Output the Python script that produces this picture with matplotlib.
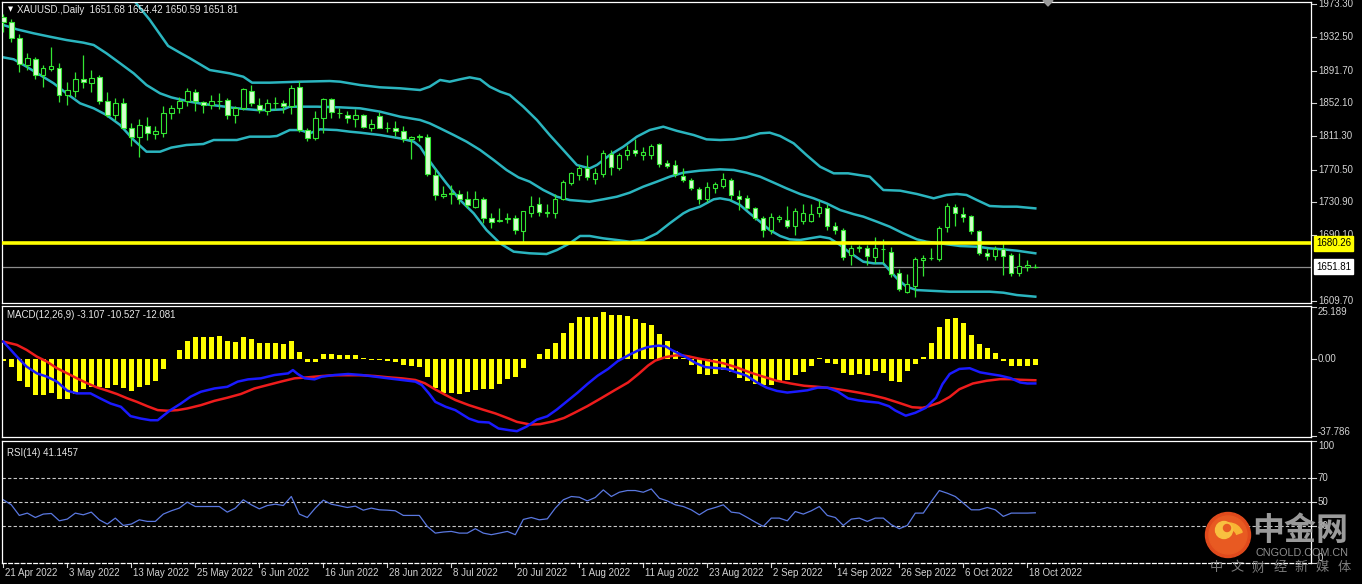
import matplotlib
matplotlib.use('Agg')
import matplotlib.pyplot as plt
from matplotlib.transforms import blended_transform_factory as btf
from matplotlib.patches import Circle, Wedge, Polygon

# ---------------- data ----------------
symbol_title = "XAUUSD.,Daily  1651.68 1654.42 1650.59 1651.81"
macd_title = "MACD(12,26,9) -3.107 -10.527 -12.081"
rsi_title = "RSI(14) 41.1457"

opens = [1957, 1951, 1932, 1899, 1906, 1886, 1894, 1895, 1862, 1867,
         1882, 1877, 1884, 1854, 1837, 1852, 1822, 1810, 1824, 1814,
         1815, 1840, 1846, 1854, 1866, 1853, 1850, 1855, 1856, 1837,
         1846, 1867, 1850, 1842, 1852, 1852, 1848, 1872, 1819, 1809,
         1834, 1857, 1840, 1838, 1833, 1838, 1822, 1836, 1822, 1821,
         1818, 1808, 1810, 1810, 1764, 1738, 1741, 1741, 1734, 1725,
         1735, 1711, 1708, 1710, 1711, 1696, 1718, 1728, 1718, 1717,
         1734, 1754, 1764, 1772, 1759, 1765, 1790, 1772, 1788, 1794,
         1788, 1788, 1802, 1779, 1776, 1763, 1758, 1747, 1734, 1748,
         1751, 1758, 1738, 1736, 1723, 1711, 1697, 1710, 1709, 1701,
         1708, 1708, 1717, 1723, 1701, 1697, 1666, 1675, 1675, 1664,
         1673, 1670, 1644, 1621, 1628, 1660, 1662, 1661, 1700, 1725,
         1716, 1714, 1695, 1668, 1665, 1673, 1666, 1644, 1651, 1651.68]
highs = [1961, 1955, 1936, 1913, 1908, 1899, 1921, 1901, 1878, 1890,
         1911, 1892, 1886, 1866, 1858, 1858, 1828, 1833, 1835, 1824,
         1848, 1850, 1860, 1870, 1869, 1854, 1862, 1864, 1858, 1849,
         1870, 1874, 1858, 1857, 1860, 1856, 1874, 1879, 1821, 1842,
         1858, 1858, 1846, 1842, 1845, 1839, 1832, 1841, 1829, 1830,
         1824, 1812, 1814, 1814, 1772, 1750, 1752, 1745, 1744, 1744,
         1737, 1717, 1724, 1717, 1715, 1720, 1738, 1737, 1728, 1741,
         1758, 1768, 1776, 1788, 1772, 1795, 1795, 1791, 1801, 1808,
         1798, 1802, 1803, 1782, 1782, 1772, 1760, 1749, 1755, 1756,
         1766, 1760, 1745, 1739, 1725, 1714, 1717, 1715, 1726, 1723,
         1728, 1728, 1733, 1729, 1707, 1699, 1678, 1678, 1678, 1688,
         1685, 1676, 1649, 1643, 1663, 1666, 1675, 1701, 1730, 1729,
         1725, 1715, 1697, 1674, 1677, 1681, 1669, 1668, 1660, 1654.42]
lows = [1939, 1927, 1890, 1892, 1882, 1872, 1891, 1853, 1850, 1860,
        1871, 1866, 1851, 1835, 1831, 1821, 1800, 1786, 1807, 1808,
        1811, 1832, 1840, 1848, 1842, 1840, 1845, 1845, 1833, 1828,
        1843, 1848, 1840, 1837, 1844, 1840, 1839, 1817, 1805, 1807,
        1815, 1834, 1834, 1828, 1823, 1822, 1818, 1821, 1817, 1812,
        1804, 1784, 1805, 1763, 1733, 1736, 1729, 1729, 1723, 1723,
        1705, 1699, 1706, 1705, 1692, 1682, 1713, 1714, 1713, 1711,
        1733, 1752, 1758, 1758, 1753, 1762, 1764, 1770, 1782, 1787,
        1782, 1783, 1774, 1772, 1762, 1756, 1745, 1728, 1731, 1742,
        1748, 1733, 1721, 1722, 1709, 1688, 1692, 1706, 1699, 1690,
        1704, 1707, 1713, 1697, 1692, 1660, 1654, 1670, 1654, 1656,
        1656, 1639, 1622, 1619, 1615, 1640, 1660, 1659, 1694, 1701,
        1707, 1692, 1666, 1660, 1660, 1642, 1640, 1640, 1646, 1650.59]
closes = [1951, 1932, 1900, 1907, 1886, 1895, 1897, 1862, 1868, 1882,
          1878, 1883, 1854, 1837, 1852, 1822, 1811, 1825, 1815, 1818,
          1840, 1846, 1854, 1867, 1854, 1850, 1855, 1854, 1837, 1846,
          1869, 1852, 1843, 1852, 1852.5, 1848, 1871, 1819, 1809, 1834,
          1857, 1841, 1839.5, 1834, 1838, 1823, 1827, 1822, 1821, 1818,
          1808, 1810, 1812, 1765, 1740, 1741, 1741.5, 1734, 1727, 1735,
          1711, 1706, 1708.5, 1711, 1697, 1720, 1726, 1719, 1718.5, 1734,
          1756, 1766, 1772, 1761, 1766, 1791, 1774, 1789, 1795, 1791,
          1792, 1800, 1777, 1775, 1765, 1758, 1748, 1735, 1749, 1753,
          1759, 1739, 1735, 1724, 1711, 1697, 1712, 1712.5, 1701, 1720,
          1717, 1716, 1725, 1701, 1697, 1664, 1675, 1675.5, 1665, 1674,
          1673.5, 1643, 1624, 1631, 1661, 1662, 1662.5, 1699, 1726, 1717,
          1713, 1695, 1668, 1665, 1673, 1665, 1644, 1652, 1653.5, 1651.81]

# Bollinger bands: (bar position, price)
bb_upper_x = [0, 5, 10, 14, 16.3, 18.3, 20.6, 22.2, 23.3, 25.8, 28.3, 30, 31.1, 33.3, 37.1, 40.8,
              42.1, 44.6, 47.1, 49.6, 52.1, 53.3, 54.6, 55.8, 57.1, 58.3, 59.6, 60.8, 62.1, 63.3,
              65, 66.7, 68.3, 70, 71.7, 72.5, 73.3, 74.2, 75.8, 77.5, 79.2, 80.8, 82.5, 84.2,
              86.3, 87.9, 89.6, 91.3, 92.9, 94.6, 95.8, 97.1, 98.8, 100.4, 102.1, 103.8, 105.6,
              108.3, 110, 112.1, 114.2, 116.3, 117.9, 119.2, 120.4, 121.7, 123.3, 125, 126.7, 129]
bb_upper_y = [2040, 2032, 2012, 1992, 1978, 1954, 1922, 1913, 1907, 1892.5, 1888.4, 1884.3, 1877, 1877, 1878.2, 1879,
              1878.2, 1874.1, 1871.3, 1870.1, 1868, 1872.1, 1880.3, 1878.2, 1881.1, 1883.5, 1881.1, 1872.1, 1866, 1862,
              1847.6, 1831.3, 1812.9, 1794.6, 1776.2, 1774.1, 1772.1, 1776.2, 1788.4, 1798.6, 1810.9, 1819, 1823.1, 1818,
              1812.9, 1807.6, 1806.8, 1807.6, 1810.1, 1815, 1815.8, 1811.7, 1802.7, 1788.4, 1774.1, 1766, 1766,
              1761.9, 1745.6, 1744.8, 1740.7, 1735.4, 1739.5, 1740.7, 1739.5, 1733.3, 1726, 1725.2, 1725.2, 1723.1]
bb_mid_x = [0, 1.7, 3.8, 5.8, 7.9, 10, 11.3, 12.9, 14.6, 16.3, 17.9, 19.6, 21, 23.3, 25, 27.1, 29.2, 31.7,
            33.3, 35, 35.8, 39.2, 42.1, 44.6, 47.1, 49.6, 52.1, 53.3, 54.6, 56.3, 57.9, 59.6, 61.3, 62.9,
            64.4, 65.8, 67.5, 69.2, 70.8, 73.3, 75, 76.7, 78.3, 80, 81.7, 83.3, 85, 87.1, 89.6, 91.3,
            92.9, 94.6, 96.3, 97.9, 99.6, 101.3, 102.9, 104.6, 106.3, 107.5, 109.2, 110.8, 112.5, 114.2,
            115.4, 117.1, 119.6, 121.7, 123.3, 125, 126.7, 129]
bb_mid_y = [1947.6, 1942.3, 1937.4, 1933.3, 1929.2, 1926, 1923.1, 1912.9, 1900.7, 1888.4, 1874.1, 1863.9, 1859,
            1853.7, 1850.9, 1848.4, 1845.6, 1843.5, 1843.5, 1844.3, 1847.6, 1847.6, 1846.8, 1845.6, 1841.5,
            1835.4, 1831.3, 1827.2, 1821.1, 1812.9, 1804.8, 1794.6, 1782.3, 1770.1, 1761, 1755.8, 1745.6,
            1737.4, 1733.3, 1731.3, 1734.2, 1737.4, 1742.3, 1749.7, 1755.8, 1761.9, 1766.8, 1769.3, 1770.9,
            1770.1, 1766.8, 1761.9, 1754.6, 1747.6, 1740.7, 1735.4, 1729.3, 1721.1, 1716, 1713, 1706.8,
            1700.7, 1692.5, 1685.2, 1682.3, 1680.3, 1677, 1676.2, 1674.2, 1672.9, 1671.3, 1668.1]
bb_low_x = [0, 1.3, 2.9, 4.6, 6.3, 7.9, 9.6, 11.3, 12.9, 14.6, 16.3, 17.9, 19.6, 21, 22.9, 25, 26.3, 29.2,
            30.8, 33.3, 34.2, 35.8, 37.1, 38.3, 39.6, 41.7, 43.3, 44.6, 47.1, 49.6, 51.3, 52.1, 52.9, 53.8,
            55.4, 57.1, 58.8, 60.4, 62.1, 63.8, 65.8, 67.9, 69.2, 70.8, 72.1, 73.3, 75, 76.7, 78.3, 80,
            81.7, 83.3, 85, 85.8, 87.1, 88.8, 89.6, 90.8, 92.1, 93.3, 94.6, 95.8, 97.1, 98.3, 99.6, 100.8,
            102.1, 103.3, 104.6, 105.8, 107.5, 108.8, 110, 111.7, 112.9, 114.2, 115.8, 118.3, 120.8, 123.3,
            125, 126.7, 129]
bb_low_y = [1908, 1905.6, 1896.6, 1886.4, 1876.2, 1863.9, 1851.7, 1845.6, 1837.4, 1825.2, 1806.8, 1792.5, 1792.5,
            1797.5, 1800.7, 1801.9, 1806.8, 1806.8, 1810.9, 1810.9, 1811.7, 1819, 1819, 1815, 1819.9, 1819, 1817,
            1815.8, 1812.9, 1808.8, 1804.8, 1798.6, 1786.4, 1774.1, 1753.7, 1733.3, 1717, 1696.6, 1680.3, 1670.1,
            1668.1, 1667.2, 1672.1, 1680.3, 1689.3, 1689.3, 1686.4, 1684.4, 1682.3, 1684.4, 1692.5, 1704.8, 1717,
            1721.1, 1725.2, 1734.2, 1735.4, 1733.3, 1727.2, 1717, 1706.8, 1696.6, 1689.3, 1685.2, 1684.4, 1686.4,
            1688.5, 1686.4, 1678.3, 1669, 1657.8, 1655.8, 1655.8, 1637.4, 1627.2, 1623.1, 1622.3, 1621.1, 1621.1,
            1621.1, 1619.9, 1617, 1615]

support_level = 1680.26
bid_price = 1651.81
price_ticks = [1973.30, 1932.50, 1891.70, 1852.10, 1811.30, 1770.50, 1730.90, 1690.10, 1609.70]

macd_hist = [-1.0, -4.0, -10.9, -13.8, -17.5, -17.5, -16.5, -19.4, -19.4, -17.0,
             -14.9, -13.8, -13.8, -14.3, -13.0, -14.3, -15.7, -13.8, -12.6, -11.0,
             -5.3, -0.3, 4.0, 8.4, 10.5, 10.5, 10.5, 11.0, 8.4, 8.1,
             10.5, 9.4, 7.6, 7.6, 7.6, 6.8, 8.6, 3.2, -1.6, -1.6,
             2.4, 2.4, 1.9, 1.6, 1.6, 0.1, -0.8, -0.8, -1.3, -1.9,
             -3.2, -3.7, -4.0, -8.9, -14.3, -16.7, -16.5, -17.0, -16.2, -15.4,
             -14.6, -14.6, -12.2, -10.0, -8.9, -4.6, -0.3, 2.3, 4.4, 7.7,
             12.6, 17.0, 20.0, 20.0, 20.0, 22.4, 21.1, 21.1, 20.4, 19.1,
             17.0, 16.4, 12.1, 8.5, 3.6, 0.3, -3.3, -7.5, -7.9, -7.5,
             -5.4, -6.7, -9.5, -10.8, -12.4, -12.8, -12.8, -10.8, -10.6, -7.9,
             -6.5, -3.8, 0.4, -2.1, -2.9, -7.0, -7.9, -7.5, -7.9, -6.2,
             -7.0, -10.8, -11.5, -6.2, -2.9, 0.7, 7.7, 15.4, 19.1, 19.5,
             17.0, 11.5, 7.2, 5.2, 2.8, -1.3, -3.4, -3.8, -3.8, -3.107]
dif_x = [0, 1.7, 2.9, 4.2, 5.45, 6.7, 8, 9.2, 10.9, 12.1, 13.4, 14.7, 15.9, 17.2, 18.4, 19.3, 20.1, 20.9,
         22.2, 23.4, 24.7, 26.4, 28, 29.3, 30.6, 32.2, 33.9, 35.6, 36.2, 36.8, 37.7, 38.9, 39.8, 41.4,
         43.1, 44.8, 46.5, 48.1, 49.8, 51.5, 52.3, 53.2, 54, 55.3, 56.5, 58.2, 59.4, 60.7, 61.9, 63.2,
         64.2, 65.4, 66.7, 68, 69.2, 70.5, 71.8, 73, 74.3, 75.6, 76.8, 78.1, 79.4, 80.6, 81.9, 82.8,
         83.6, 84.5, 85.3, 86.6, 87.8, 89.1, 90.4, 91.6, 92.9, 94.2, 95.4, 96.7, 98, 99.2, 100.5, 101.8,
         103, 104.3, 105.6, 106.9, 108.1, 109.4, 110.7, 111.5, 112.8, 114, 115.3, 116.6, 117.4, 118.3,
         119.5, 120.8, 122.1, 123.3, 124.6, 125.9, 127.1, 128, 129]
dif_y = [8.2, 0.9, -3.9, -7.2, -8.8, -11.2, -15.6, -16.9, -16.9, -19.3, -21.8, -23.4, -27.9, -29.1, -29.9,
         -29.9, -27.4, -25, -21.8, -18.5, -16.1, -14.5, -13.7, -11.2, -10.1, -9.6, -8, -7.2, -5.6, -7.5,
         -9.6, -10.1, -8.8, -8, -7.5, -8, -8.8, -9.6, -10.4, -11.2, -12.8, -16.9, -21, -23.4, -25, -29.1,
         -30.7, -31, -33.9, -34.7, -35.2, -33, -29.6, -28, -24.7, -20.6, -16.5, -12.4, -8.3, -5.05, -1.3,
         1.5, 4, 5.6, 6.25, 5.9, 4, 2.3, 0.7, -2.3, -4.2, -4.6, -5.05, -6.7, -8.3, -11.6, -14.1, -15.7,
         -16.5, -16, -15.4, -14.1, -14.1, -16, -19.3, -20.3, -20.9, -21.4, -23.1, -25.2, -27.7, -26.3,
         -23.9, -19, -12.4, -7.5, -5.05, -4.7, -6.7, -7.5, -8.3, -9.5, -11.6, -12.1, -12.08]
dea_x = [0, 1.7, 2.9, 4.2, 5.45, 6.7, 8, 9.2, 10.5, 11.7, 13, 14.2, 15.5, 16.7, 18, 19.3, 20.5, 21.8, 23,
         24.7, 26.4, 28, 29.7, 31.4, 33.1, 34.7, 36.4, 38.1, 39.8, 41.4, 44.8, 46.5, 48.1, 49.8, 51.5,
         52.7, 54, 55.3, 56.5, 58.2, 59.9, 61.5, 63.2, 64.2, 65.9, 67.1, 68.8, 70.1, 71.4, 73, 74.7, 76.4,
         78.1, 79.4, 80.6, 81.5, 82.8, 84, 84.9, 85.7, 87, 88.3, 90, 91.6, 93.3, 95, 96.7, 98.4, 100.1,
         101.8, 103.5, 105.2, 106.9, 108.5, 110.2, 111.9, 113.6, 114.9, 115.7, 117, 118.3, 119.5, 121.2,
         122.9, 124.6, 125.9, 127.1, 129]
dea_y = [8.2, 6.6, 4.2, 0.9, -1.5, -4.7, -7.2, -9.6, -12, -14, -15.6, -17.2, -19.3, -21, -23.1, -25, -25.3,
         -25, -24.2, -22.6, -20.5, -19, -17.2, -14.5, -12.8, -11.2, -9.6, -9.1, -8.5, -8.1, -8.1, -8.5,
         -9.1, -9.6, -10.4, -12, -15, -17.7, -20.1, -22.6, -24.7, -26.6, -29.1, -30.7, -32, -31.8, -30.4,
         -28.8, -26.3, -23.1, -19.3, -15.4, -11.6, -7.5, -3.4, -1, 0.7, 1.5, 1.5, 1, -0.1, -1, -2.3, -4.2,
         -6.7, -8.8, -10.8, -12.1, -13.2, -13.7, -14.4, -15.4, -16.5, -17.7, -19.3, -21.4, -23.6, -23.9,
         -23.1, -21.4, -18.6, -14.9, -12.1, -10.8, -10, -10, -10.3, -10.53]
macd_ticks = [25.189, 0.00, -37.786]
macd_tick_labels = ["25.189", "0.00", "-37.786"]

rsi = [51.8, 47.7, 39.0, 40.9, 37.3, 40.1, 40.6, 34.6, 36.0, 40.9,
       39.5, 41.7, 35.4, 31.9, 36.8, 30.8, 31.9, 35.4, 34.1, 34.1,
       40.1, 42.8, 45.0, 49.9, 46.3, 46.3, 46.3, 46.3, 41.7, 45.0,
       51.8, 47.7, 44.4, 47.1, 48.2, 47.1, 54.5, 40.1, 37.3, 45.0,
       51.5, 48.2, 46.9, 45.5, 46.6, 43.3, 45.0, 43.6, 43.3, 42.8,
       39.0, 39.0, 39.0, 30.0, 24.5, 25.4, 25.9, 24.5, 24.5, 28.1,
       24.5, 23.2, 24.5, 25.9, 23.2, 35.7, 37.3, 35.4, 36.2, 45.0,
       51.8, 54.5, 53.9, 50.9, 53.7, 59.9, 54.5, 58.0, 59.4, 59.4,
       58.0, 60.7, 53.1, 50.9, 47.7, 46.3, 43.6, 39.5, 43.6, 45.5,
       47.7, 41.7, 40.9, 37.3, 33.5, 30.0, 36.8, 36.8, 34.6, 42.2,
       40.1, 42.8, 46.3, 39.0, 37.3, 30.8, 36.0, 36.8, 34.1, 36.8,
       36.8, 31.4, 28.1, 30.8, 40.9, 40.9, 50.4, 59.4, 57.2, 54.5,
       49.0, 43.6, 43.6, 45.5, 43.6, 38.2, 40.9, 40.9, 40.9, 41.15]
rsi_levels = [70, 50, 30]
rsi_ticks = [100, 70, 50, 30, 0]

date_bars = [0, 8, 16, 24, 32, 40, 48, 56, 64, 72, 80, 88, 96, 104, 112, 120, 128]
date_labels = ["21 Apr 2022", "3 May 2022", "13 May 2022", "25 May 2022", "6 Jun 2022",
               "16 Jun 2022", "28 Jun 2022", "8 Jul 2022", "20 Jul 2022", "1 Aug 2022",
               "11 Aug 2022", "23 Aug 2022", "2 Sep 2022", "14 Sep 2022", "26 Sep 2022",
               "6 Oct 2022", "18 Oct 2022"]

# ---------------- style ----------------
W, H = 1362, 584
FONT = ['Liberation Sans', 'DejaVu Sans']
CJK = ['Noto Sans CJK SC', 'DejaVu Sans']
plt.rcParams['font.family'] = FONT
TXT = '#e6e6e6'
AX_TXT = '#d2d2d2'
GREEN = '#33e633'
PALE = '#d6ffcf'
BAND = '#2bb5bf'
FS = 7.0

fig = plt.figure(figsize=(W / 100, H / 100), dpi=100, facecolor='black')


def rect(x0, y0, x1, y1):
    return [x0 / W, 1 - y1 / H, (x1 - x0) / W, (y1 - y0) / H]


XL = ((2 - 3.3) / 8, (1311 - 3.3) / 8)


def style(ax):
    ax.set_facecolor('black')
    ax.set_xlim(*XL)
    ax.set_xticks([])
    ax.set_yticks([])
    for s in ax.spines.values():
        s.set_color('white')
        s.set_linewidth(0.9)


ax = fig.add_axes(rect(2, 2, 1311, 303))
axm = fig.add_axes(rect(2, 306, 1311, 437))
axr = fig.add_axes(rect(2, 441, 1311, 563))
for a in (ax, axm, axr):
    style(a)

# ---------------- main price panel ----------------
ax.set_ylim(1607.26, 1975.75)
n = len(closes)
idx = list(range(n))
ax.vlines(idx, lows, highs, color=GREEN, linewidth=0.9, zorder=3)
bot = [min(o, c) for o, c in zip(opens, closes)]
hgt = [abs(c - o) for o, c in zip(opens, closes)]
face = ['black' if c >= o else PALE for o, c in zip(opens, closes)]
ax.bar(idx, hgt, bottom=bot, width=0.55, color=face, edgecolor=GREEN, linewidth=0.8, zorder=4)

ax.plot(bb_upper_x, bb_upper_y, color=BAND, lw=1.8, zorder=2)
ax.plot(bb_mid_x, bb_mid_y, color=BAND, lw=1.8, zorder=2)
ax.plot(bb_low_x, bb_low_y, color=BAND, lw=1.8, zorder=2)

ax.axhline(support_level, color='#ffff00', lw=2.6, zorder=5)
ax.axhline(bid_price, color='#8c8c8c', lw=0.9, zorder=1)

tr = btf(ax.transAxes, ax.transData)
for p in price_ticks:
    ax.plot([1.0, 1.0035], [p, p], color=AX_TXT, lw=0.8, transform=tr, clip_on=False)
    ax.text(1.0053, p, f"{p:.2f}", transform=tr, color=AX_TXT, fontsize=FS,
            va='center', ha='left', clip_on=False)
ax.text(1.004, support_level, f"{support_level:.2f}", transform=tr, color='black', fontsize=FS,
        va='center', ha='left', clip_on=False, zorder=10,
        bbox=dict(facecolor='#ffff00', edgecolor='#ffff00', boxstyle='square,pad=0.22'))
ax.text(1.004, bid_price, f"{bid_price:.2f}", transform=tr, color='black', fontsize=FS,
        va='center', ha='left', clip_on=False, zorder=10,
        bbox=dict(facecolor='white', edgecolor='white', boxstyle='square,pad=0.22'))

ax.text(0.0045, 0.975, "\u25BC", transform=ax.transAxes, color='white', fontsize=4.8,
        va='center', ha='left', family=['DejaVu Sans'])
ax.text(0.0115, 0.973, symbol_title, transform=ax.transAxes, color=TXT, fontsize=FS,
        va='center', ha='left')

# ---------------- MACD panel ----------------
axm.set_ylim(-38.03, 25.44)
axm.bar(idx, macd_hist, width=0.62, color='#ffff00', zorder=2)
axm.plot(dea_x, dea_y, color='#ee1c1c', lw=1.8, zorder=3)
axm.plot(dif_x, dif_y, color='#1a1aff', lw=1.8, zorder=4)
axm.text(0.004, 0.93, macd_title, transform=axm.transAxes, color=TXT, fontsize=FS,
         va='center', ha='left')
trm = btf(axm.transAxes, axm.transData)
for v, lab in zip(macd_ticks, macd_tick_labels):
    yv = min(max(v, -35.5), 22.5)
    axm.plot([1.0, 1.0035], [v, v], color=AX_TXT, lw=0.8, transform=trm, clip_on=False)
    axm.text(1.0053, yv, lab, transform=trm, color=AX_TXT, fontsize=FS,
             va='center', ha='left', clip_on=False)

# ---------------- RSI panel ----------------
axr.set_ylim(0, 100)
axr.spines['bottom'].set_linestyle((0, (3, 2)))
for lv in rsi_levels:
    axr.axhline(lv, color='#c8c8c8', lw=0.8, ls=(0, (3, 2)))
axr.plot(idx, rsi, color='#5a78e0', lw=0.9)
axr.text(0.004, 0.9, rsi_title, transform=axr.transAxes, color=TXT, fontsize=FS,
         va='center', ha='left')
trr = btf(axr.transAxes, axr.transData)
for v in rsi_ticks:
    yv = min(max(v, 4), 95.5)
    axr.plot([1.0, 1.0035], [v, v], color=AX_TXT, lw=0.8, transform=trr, clip_on=False)
    axr.text(1.0053, yv, str(v), transform=trr, color=AX_TXT, fontsize=FS,
             va='center', ha='left', clip_on=False)

# date axis
trd = btf(axr.transData, axr.transAxes)
for b, lab in zip(date_bars, date_labels):
    axr.plot([b, b], [0, -0.035], color=AX_TXT, lw=0.8, transform=trd, clip_on=False)
    axr.text(b + 0.2, -0.085, lab, transform=trd, color=AX_TXT, fontsize=FS,
             va='center', ha='left', clip_on=False)

# ---------------- overlay: marker + watermark ----------------
ov = fig.add_axes([0, 0, 1, 1], zorder=20)
ov.set_xlim(0, W)
ov.set_ylim(H, 0)
ov.axis('off')
ov.patch.set_alpha(0)
ov.add_patch(Polygon([(1043, 0.5), (1053, 0.5), (1048, 6)], closed=True, color='#9a9a9a'))

ov.add_patch(Circle((1228, 535), 22.5, color='#e04a1c', zorder=2))
ov.add_patch(Circle((1228, 535), 19, color='#e85a22', zorder=2))
ov.add_patch(Wedge((1229, 537), 14, 200, 340, width=6, color='#f8b534', zorder=3))
ov.add_patch(Circle((1224, 530), 8.5, color='#f8c040', zorder=3))
ov.add_patch(Circle((1227, 528), 3.5, color='#e85a22', zorder=4))
ov.text(1300, 531, "中金网", fontsize=23, fontweight='bold', color='#a8a8a8', alpha=0.92,
        ha='center', va='center', family=CJK)
ov.text(1302, 553, "CNGOLD.COM.CN", fontsize=7.8, color='#9e9e9e', alpha=0.9,
        ha='center', va='center', family=FONT)
for k, ch in enumerate("中文财经新媒体"):
    ov.text(1216 + 21.3 * k, 568, ch, fontsize=9.5, color='#8a8a8a', alpha=0.9,
            ha='center', va='center', family=CJK)

fig.savefig('out.png', dpi=100, facecolor='black')
